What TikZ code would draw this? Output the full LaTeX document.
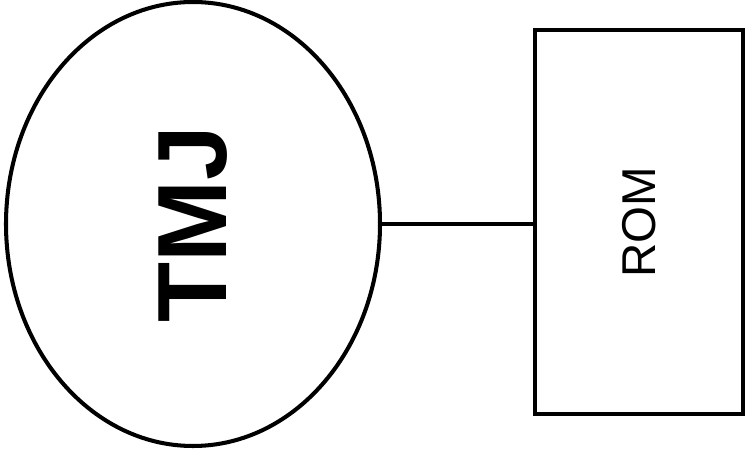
\documentclass[tikz,border=0pt]{standalone}
\usepackage{fontspec}
\setmainfont{Liberation Sans}
\usepackage{tikz}
\usetikzlibrary{shapes.geometric}

\tikzset{
  outline/.style={draw, line width=2.3pt, inner sep=0pt, rotate=90},
}

\begin{document}
\begin{tikzpicture}
\useasboundingbox (0,0) rectangle (14.92,-9.16);
\node[outline, ellipse, minimum width=8.88cm, minimum height=7.48cm,
  font=\fontsize{56}{66}\selectfont\bfseries] (tmj) at (3.86,-4.48) {TMJ};
\node[outline, rectangle, minimum width=7.68cm, minimum height=4.16cm,
  font=\fontsize{27}{32}\selectfont] (rom) at (12.78,-4.44) {ROM};
\draw[line width=2.3pt] (tmj.south) -- (tmj.south -| rom.north);
\end{tikzpicture}
\end{document}
